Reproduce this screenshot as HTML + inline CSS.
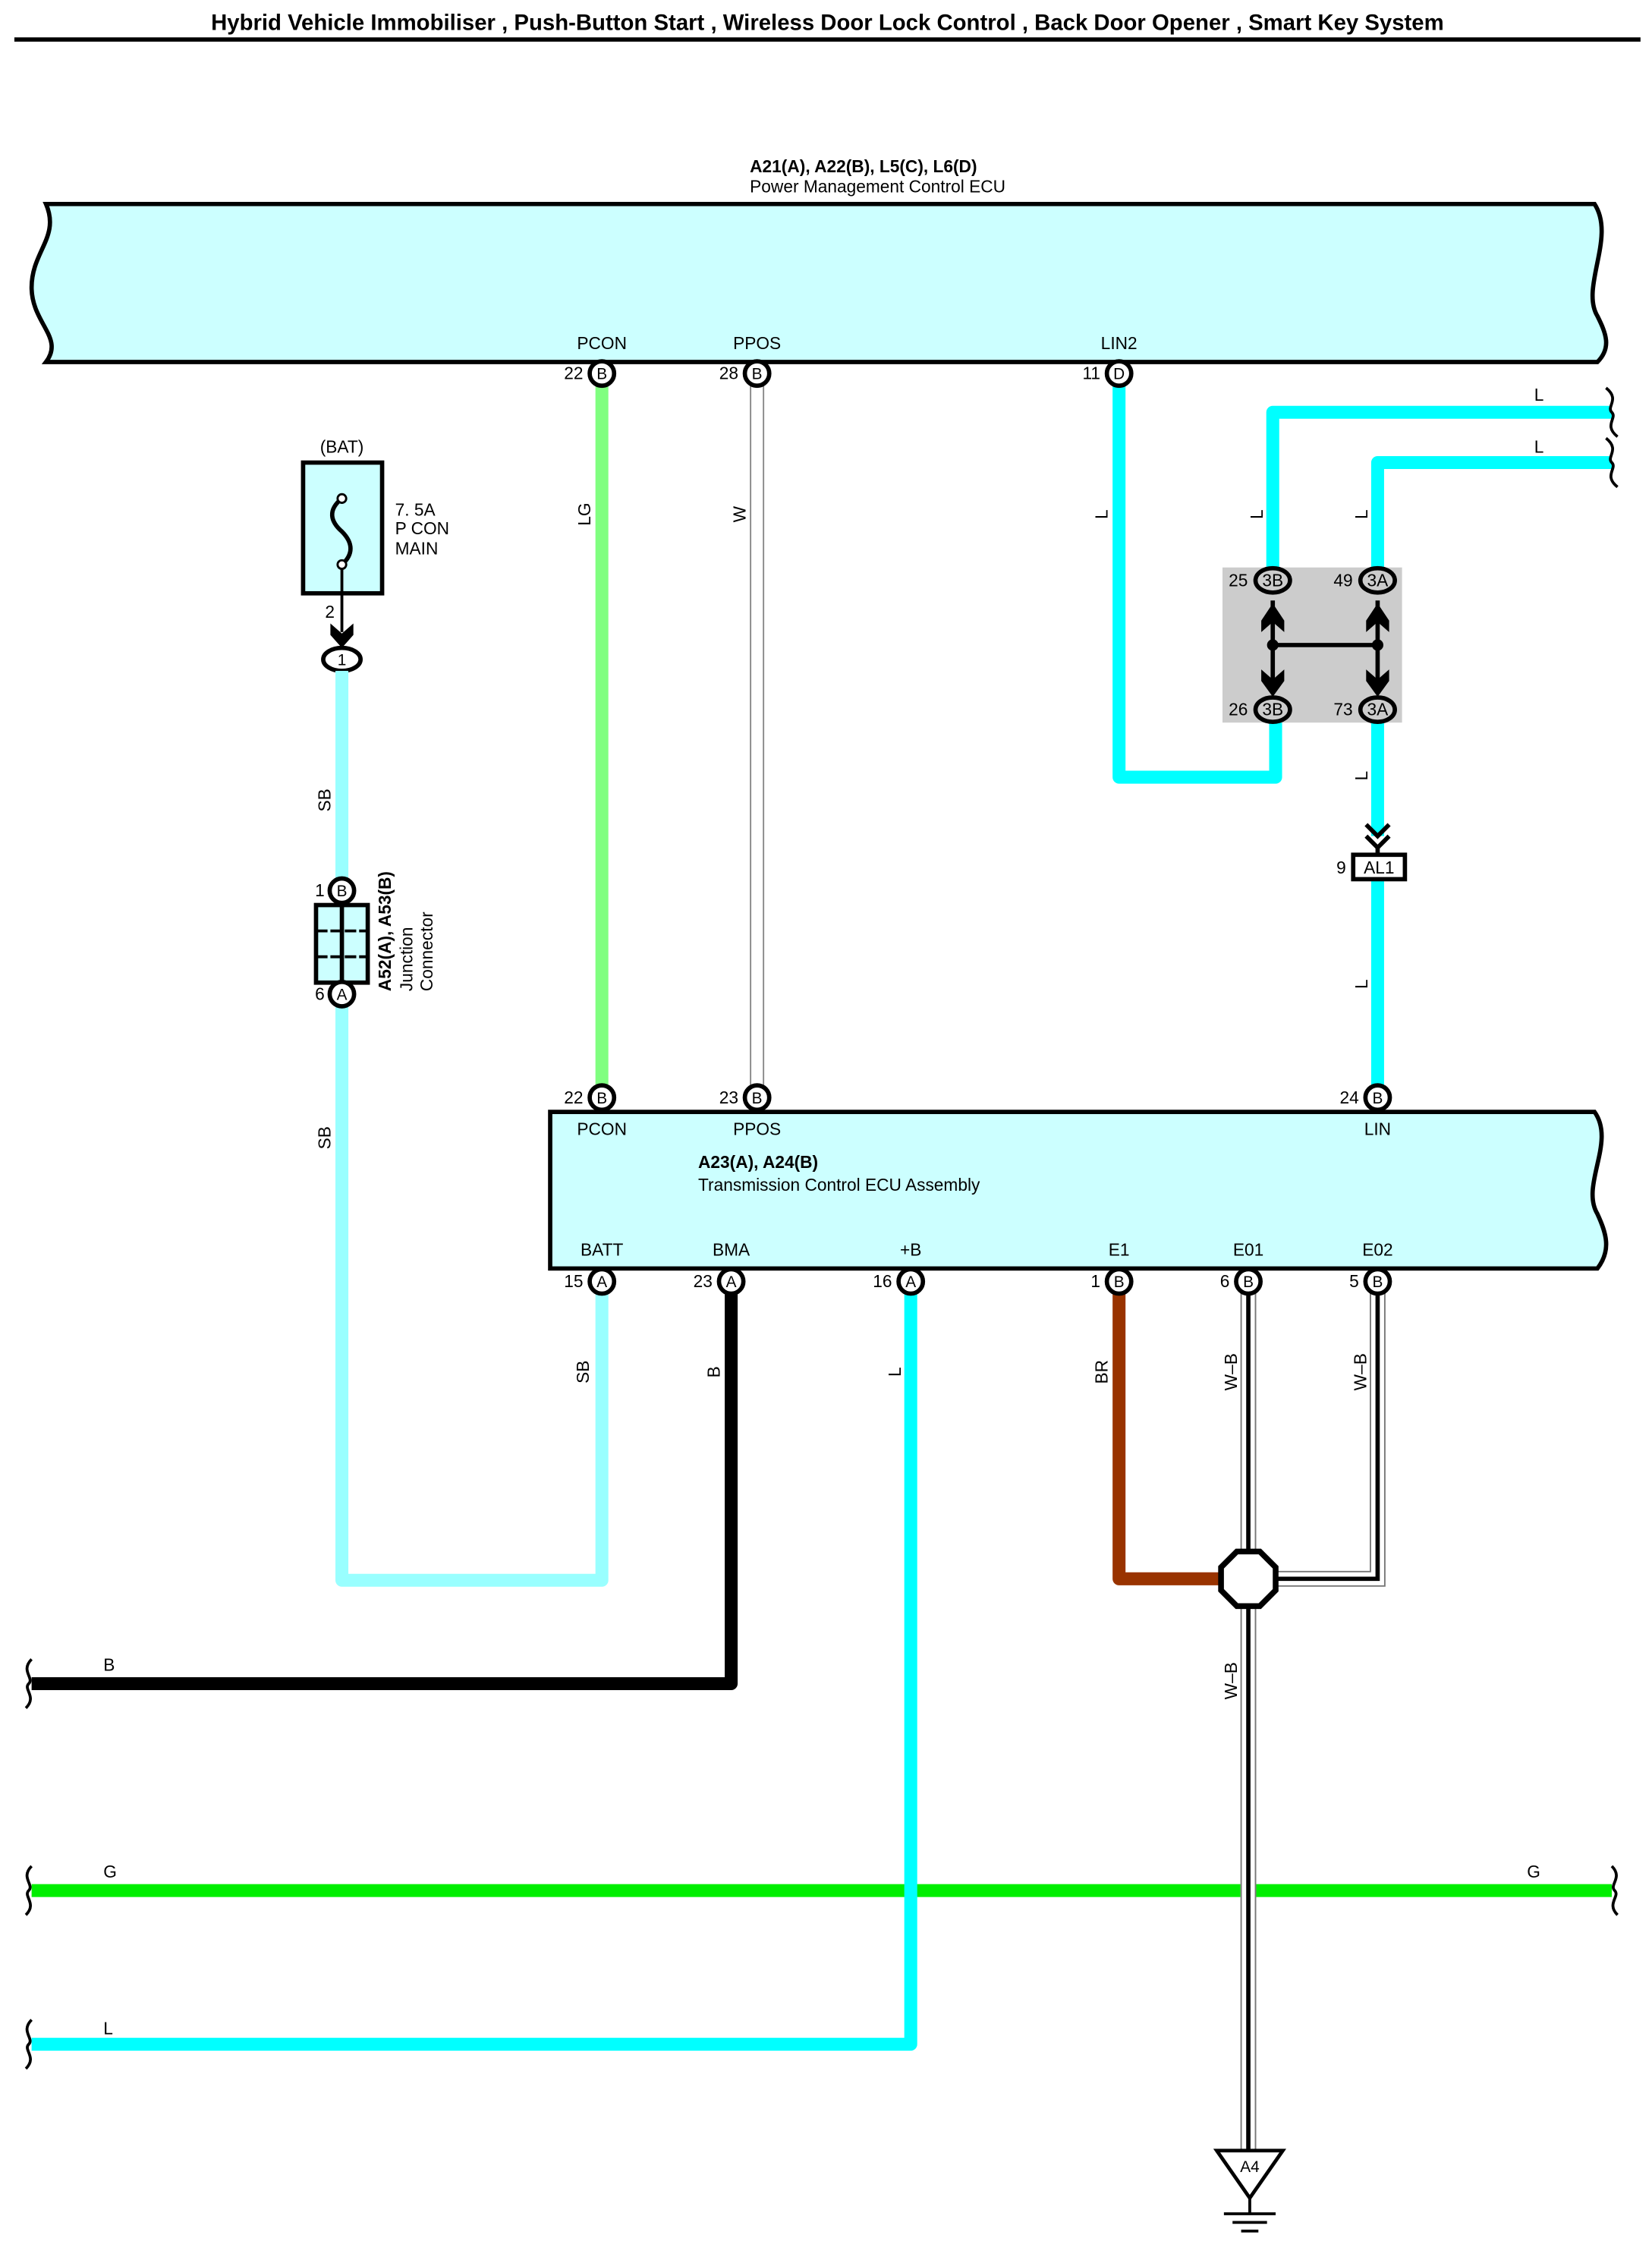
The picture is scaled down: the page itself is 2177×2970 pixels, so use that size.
<!DOCTYPE html>
<html><head><meta charset="utf-8"><style>
html,body{margin:0;padding:0;background:#fff;}
svg{display:block;}
text{font-family:"Liberation Sans",Arial,sans-serif;fill:#000;}
</style></head><body>
<svg width="2177" height="2970" viewBox="0 0 1150 1569" preserveAspectRatio="none" xmlns="http://www.w3.org/2000/svg">
<defs>
<g id="pin"><circle r="8.5" fill="#fff" stroke="#000" stroke-width="3"/></g>
</defs>
<!-- title -->
<text x="576" y="21" font-size="15.5" font-weight="bold" text-anchor="middle">Hybrid Vehicle Immobiliser , Push-Button Start , Wireless Door Lock Control , Back Door Opener , Smart Key System</text>
<line x1="10" y1="27.5" x2="1142" y2="27.5" stroke="#000" stroke-width="3"/>

<!-- top ECU -->
<text x="522" y="120" font-size="12" font-weight="bold">A21(A), A22(B), L5(C), L6(D)</text>
<text x="522" y="134" font-size="12">Power Management Control ECU</text>
<path d="M32,142 L1110,142 C1125,165 1100,200 1112,220 C1118,232 1122,242 1112,252 L32,252 C45,235 22,225 22,200 C22,175 42,165 32,142 Z" fill="#ccffff" stroke="#000" stroke-width="3"/>
<text x="419" y="243" font-size="12" text-anchor="middle">PCON</text>
<text x="527" y="243" font-size="12" text-anchor="middle">PPOS</text>
<text x="779" y="243" font-size="12" text-anchor="middle">LIN2</text>

<!-- wires top -->
<line x1="419" y1="268" x2="419" y2="756" stroke="#80ff80" stroke-width="9"/>
<line x1="522.5" y1="268" x2="522.5" y2="756" stroke="#888" stroke-width="1"/>
<line x1="531.5" y1="268" x2="531.5" y2="756" stroke="#888" stroke-width="1"/>
<path d="M779,268 L779,541 L888,541 L888,503" fill="none" stroke="#00ffff" stroke-width="9" stroke-linejoin="round"/>
<path d="M1122,287 L886,287 L886,395" fill="none" stroke="#00ffff" stroke-width="9" stroke-linejoin="round"/>
<path d="M1122,322 L959,322 L959,395" fill="none" stroke="#00ffff" stroke-width="9" stroke-linejoin="round"/>
<path d="M1118,270 C1128,278 1118,283 1122,287 C1126,291 1116,296 1126,304" fill="none" stroke="#000" stroke-width="2"/>
<path d="M1118,305 C1128,313 1118,318 1122,322 C1126,326 1116,331 1126,339" fill="none" stroke="#000" stroke-width="2"/>
<text x="1068" y="279" font-size="12">L</text>
<text x="1068" y="315" font-size="12">L</text>

<!-- gray junction block -->
<rect x="851" y="395" width="125" height="108" fill="#cccccc"/>
<g stroke="#000" stroke-width="3" fill="none">
<line x1="886" y1="418" x2="886" y2="480"/>
<line x1="959" y1="418" x2="959" y2="480"/>
<line x1="886" y1="449" x2="959" y2="449"/>
</g>
<circle cx="886" cy="449" r="4"/><circle cx="959" cy="449" r="4"/>
<path d="M878,432 L886,420 L894,432 L894,440 L886,433 L878,440 Z"/>
<path d="M951,432 L959,420 L967,432 L967,440 L959,433 L951,440 Z"/>
<path d="M878,466 L886,473 L894,466 L894,474 L886,485 L878,474 Z"/>
<path d="M951,466 L959,473 L967,466 L967,474 L959,485 L951,474 Z"/>
<line x1="959" y1="503" x2="959" y2="582" stroke="#00ffff" stroke-width="9"/>
<line x1="959" y1="611" x2="959" y2="756" stroke="#00ffff" stroke-width="9"/>
<path d="M951,574 L959,582 L967,574 M951,582 L959,590 L967,582" fill="none" stroke="#000" stroke-width="3"/>
<line x1="959" y1="590" x2="959" y2="595" stroke="#000" stroke-width="3"/>
<rect x="942" y="595" width="36" height="17" fill="#fff" stroke="#000" stroke-width="3"/>
<text x="960" y="608" font-size="12" text-anchor="middle">AL1</text>
<text x="937" y="608" font-size="12" text-anchor="end">9</text>

<g font-size="12" text-anchor="middle">
<g stroke="#000" stroke-width="3" fill="#ccc">
<ellipse cx="886" cy="404" rx="12" ry="8.5"/><ellipse cx="959" cy="404" rx="12" ry="8.5"/>
<ellipse cx="886" cy="494" rx="12" ry="8.5"/><ellipse cx="959" cy="494" rx="12" ry="8.5"/>
</g>
<text x="886" y="408">3B</text><text x="959" y="408">3A</text>
<text x="886" y="498">3B</text><text x="959" y="498">3A</text>
<text x="862" y="408">25</text><text x="935" y="408">49</text>
<text x="862" y="498">26</text><text x="935" y="498">73</text>
</g>

<!-- fuse -->
<text x="238" y="315" font-size="12" text-anchor="middle">(BAT)</text>
<rect x="211" y="322" width="55" height="91" fill="#ccffff" stroke="#000" stroke-width="3"/>
<path d="M238,347 C228,355 230,363 238,370 C246,378 246,386 238,393" fill="none" stroke="#000" stroke-width="3"/>
<circle cx="238" cy="347" r="3" fill="#fff" stroke="#000" stroke-width="1.5"/>
<circle cx="238" cy="393" r="3" fill="#fff" stroke="#000" stroke-width="1.5"/>
<text x="275" y="359" font-size="12">7. 5A</text>
<text x="275" y="372" font-size="12">P CON</text>
<text x="275" y="386" font-size="12">MAIN</text>
<line x1="238" y1="396" x2="238" y2="440" stroke="#000" stroke-width="2"/>
<path d="M230,434 L238,441 L246,434 L246,442 L238,451 L230,442 Z"/>
<text x="233" y="430" font-size="12" text-anchor="end">2</text>
<ellipse cx="238" cy="459" rx="13" ry="8" fill="#fff" stroke="#000" stroke-width="3"/>
<text x="238" y="463" font-size="11" text-anchor="middle">1</text>

<!-- SB loop -->
<path d="M238,467 L238,612" stroke="#99ffff" stroke-width="9" fill="none"/>
<path d="M238,700 L238,1100 L419,1100 L419,900" stroke="#99ffff" stroke-width="9" fill="none" stroke-linejoin="round"/>
<!-- junction connector -->
<rect x="220" y="630" width="36" height="54" fill="#ccffff" stroke="#000" stroke-width="3"/>
<line x1="238" y1="630" x2="238" y2="684" stroke="#000" stroke-width="3"/>
<line x1="220" y1="648" x2="256" y2="648" stroke="#000" stroke-width="2" stroke-dasharray="8,2"/>
<line x1="220" y1="666" x2="256" y2="666" stroke="#000" stroke-width="2" stroke-dasharray="8,2"/>
<use href="#pin" x="238" y="620"/><text x="238" y="624" font-size="11" text-anchor="middle">B</text>
<use href="#pin" x="238" y="692"/><text x="238" y="696" font-size="11" text-anchor="middle">A</text>
<text x="226" y="624" font-size="12" text-anchor="end">1</text>
<text x="226" y="696" font-size="12" text-anchor="end">6</text>
<text transform="translate(272,690) rotate(-90)" font-size="12" font-weight="bold">A52(A), A53(B)</text>
<text transform="translate(287,690) rotate(-90)" font-size="12">Junction</text>
<text transform="translate(301,690) rotate(-90)" font-size="12">Connector</text>

<!-- bottom ECU -->
<path d="M383,774 L1110,774 C1125,795 1100,825 1112,845 C1118,858 1122,870 1112,883 L383,883 Z" fill="#ccffff" stroke="#000" stroke-width="3"/>
<text x="486" y="813" font-size="12" font-weight="bold">A23(A), A24(B)</text>
<text x="486" y="829" font-size="12">Transmission Control ECU Assembly</text>
<g font-size="12" text-anchor="middle">
<text x="419" y="790">PCON</text><text x="527" y="790">PPOS</text><text x="959" y="790">LIN</text>
<text x="419" y="874">BATT</text><text x="509" y="874">BMA</text><text x="634" y="874">+B</text>
<text x="779" y="874">E1</text><text x="869" y="874">E01</text><text x="959" y="874">E02</text>
</g>

<!-- bottom wires -->
<path d="M509,900 L509,1172 L22,1172" fill="none" stroke="#000" stroke-width="9" stroke-linejoin="round"/>
<line x1="22" y1="1316" x2="1122" y2="1316" stroke="#00ee00" stroke-width="9"/>
<path d="M634,900 L634,1423 L22,1423" fill="none" stroke="#00ffff" stroke-width="9" stroke-linejoin="round"/>
<path d="M779,900 L779,1099 L852,1099" fill="none" stroke="#993300" stroke-width="9" stroke-linejoin="round"/>
<!-- W-B wires -->
<g fill="none">
<path d="M869,900 L869,1497" stroke="#fff" stroke-width="11"/>
<path d="M959,900 L959,1099 L886,1099" stroke="#fff" stroke-width="11"/>
<path d="M864,900 L864,1497 M874,900 L874,1497" stroke="#777" stroke-width="1"/>
<path d="M964,900 L964,1104 L886,1104 M954,900 L954,1094 L886,1094" stroke="#777" stroke-width="1"/>
<path d="M869,900 L869,1497" stroke="#000" stroke-width="3"/>
<path d="M959,900 L959,1099 L886,1099" stroke="#000" stroke-width="3"/>
</g>
<polygon points="861,1080 877,1080 888,1091 888,1107 877,1118 861,1118 850,1107 850,1091" fill="#fff" stroke="#000" stroke-width="4"/>

<!-- wavy ends -->
<g fill="none" stroke="#000" stroke-width="2">
<path d="M22,1155 C14,1163 24,1168 20,1172 C16,1176 26,1181 18,1189"/>
<path d="M22,1299 C14,1307 24,1312 20,1316 C16,1320 26,1325 18,1333"/>
<path d="M22,1406 C14,1414 24,1419 20,1423 C16,1427 26,1432 18,1440"/>
<path d="M1122,1299 C1130,1307 1120,1312 1124,1316 C1128,1320 1118,1325 1126,1333"/>
</g>
<text x="72" y="1163" font-size="12">B</text>
<text x="72" y="1307" font-size="12">G</text>
<text x="1063" y="1307" font-size="12">G</text>
<text x="72" y="1416" font-size="12">L</text>

<!-- ground -->
<polygon points="847,1497 893,1497 870,1530" fill="#fff" stroke="#000" stroke-width="2.5"/>
<text x="870" y="1512" font-size="11" text-anchor="middle">A4</text>
<line x1="870" y1="1530" x2="870" y2="1541" stroke="#000" stroke-width="2"/>
<line x1="852" y1="1541" x2="888" y2="1541" stroke="#000" stroke-width="2"/>
<line x1="858" y1="1547" x2="882" y2="1547" stroke="#000" stroke-width="2"/>
<line x1="864" y1="1553" x2="876" y2="1553" stroke="#000" stroke-width="2"/>

<!-- pins -->
<g font-size="11" text-anchor="middle">
<use href="#pin" x="419" y="260"/><text x="419" y="264">B</text>
<use href="#pin" x="527" y="260"/><text x="527" y="264">B</text>
<use href="#pin" x="779" y="260"/><text x="779" y="264">D</text>
<use href="#pin" x="419" y="764"/><text x="419" y="768">B</text>
<use href="#pin" x="527" y="764"/><text x="527" y="768">B</text>
<use href="#pin" x="959" y="764"/><text x="959" y="768">B</text>
<use href="#pin" x="419" y="892"/><text x="419" y="896">A</text>
<use href="#pin" x="509" y="892"/><text x="509" y="896">A</text>
<use href="#pin" x="634" y="892"/><text x="634" y="896">A</text>
<use href="#pin" x="779" y="892"/><text x="779" y="896">B</text>
<use href="#pin" x="869" y="892"/><text x="869" y="896">B</text>
<use href="#pin" x="959" y="892"/><text x="959" y="896">B</text>
</g>
<g font-size="12" text-anchor="end">
<text x="406" y="264">22</text><text x="514" y="264">28</text><text x="766" y="264">11</text>
<text x="406" y="768">22</text><text x="514" y="768">23</text><text x="946" y="768">24</text>
<text x="406" y="896">15</text><text x="496" y="896">23</text><text x="621" y="896">16</text>
<text x="766" y="896">1</text><text x="856" y="896">6</text><text x="946" y="896">5</text>
</g>

<!-- rotated wire labels -->
<g font-size="12" text-anchor="middle">
<text transform="translate(411,358) rotate(-90)">LG</text>
<text transform="translate(519,358) rotate(-90)">W</text>
<text transform="translate(771,358) rotate(-90)">L</text>
<text transform="translate(879,358) rotate(-90)">L</text>
<text transform="translate(952,358) rotate(-90)">L</text>
<text transform="translate(952,540) rotate(-90)">L</text>
<text transform="translate(952,685) rotate(-90)">L</text>
<text transform="translate(230,557) rotate(-90)">SB</text>
<text transform="translate(230,792) rotate(-90)">SB</text>
<text transform="translate(410,955) rotate(-90)">SB</text>
<text transform="translate(501,955) rotate(-90)">B</text>
<text transform="translate(627,955) rotate(-90)">L</text>
<text transform="translate(771,955) rotate(-90)">BR</text>
<text transform="translate(861,955) rotate(-90)">W–B</text>
<text transform="translate(951,955) rotate(-90)">W–B</text>
<text transform="translate(861,1170) rotate(-90)">W–B</text>
</g>
</svg>
</body></html>
